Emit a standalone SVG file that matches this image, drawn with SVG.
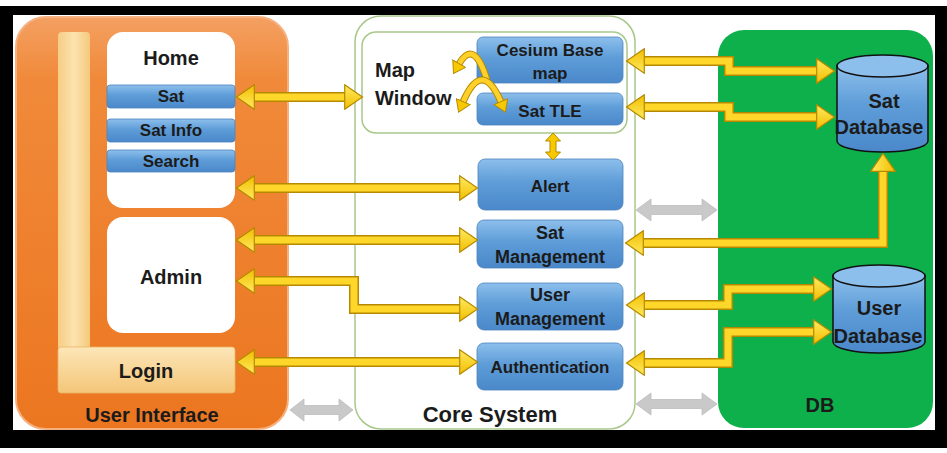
<svg xmlns="http://www.w3.org/2000/svg" width="947" height="453" viewBox="0 0 947 453">
<defs>
<style>
.t{font-family:"Liberation Sans",Arial,sans-serif;font-weight:bold;fill:#1b1b1b;text-anchor:middle}
.s17{font-size:17px}.s18{font-size:18px}.s20{font-size:20px}.s22{font-size:22px}
.blue{fill:url(#gBlue);stroke:#4D84BE;stroke-width:0.8}
.cont{fill:#fff;stroke:#A8C88A;stroke-width:1.5}
.shO{fill:none;stroke:#B58A00;stroke-width:10;stroke-linejoin:miter}
.shI{fill:none;stroke:#FFD62A;stroke-width:7;stroke-linejoin:miter}
.arr{marker-start:url(#ah);marker-end:url(#ah)}
.arcO{fill:none;stroke:#B58A00;stroke-width:7}
.arcI{fill:none;stroke:#FFD02A;stroke-width:5}
.gray{fill:#C9C9C9;stroke:#BDBDBD;stroke-width:0.8}
.cyl{fill:url(#gBlue);stroke:#111;stroke-width:1.5}
</style>
<linearGradient id="gOrange" x1="0" y1="0" x2="0" y2="1">
<stop offset="0" stop-color="#F4A062"/><stop offset="0.15" stop-color="#F08A3A"/><stop offset="1" stop-color="#EC7620"/>
</linearGradient>
<linearGradient id="gBlue" x1="0" y1="0" x2="0" y2="1">
<stop offset="0" stop-color="#8DBFEC"/><stop offset="0.45" stop-color="#5E9DD8"/><stop offset="1" stop-color="#4A88CA"/>
</linearGradient>
<linearGradient id="gBar" x1="0" y1="0" x2="1" y2="0">
<stop offset="0" stop-color="#F6CD85"/><stop offset="0.5" stop-color="#FCE3B0"/><stop offset="1" stop-color="#F5C97C"/>
</linearGradient>
<linearGradient id="gLogin" x1="0" y1="0" x2="0" y2="1">
<stop offset="0" stop-color="#FCE6B8"/><stop offset="1" stop-color="#F4C678"/>
</linearGradient>
<linearGradient id="gHead" x1="0" y1="0" x2="0" y2="1">
<stop offset="0" stop-color="#FFEA60"/><stop offset="1" stop-color="#F2BE00"/>
</linearGradient>
<marker id="ah" markerUnits="userSpaceOnUse" markerWidth="20" markerHeight="26" viewBox="0 0 20 26" refX="1" refY="13" orient="auto-start-reverse">
<path d="M0.7,0.7 L18.5,13 L0.7,25.3 Z" fill="url(#gHead)" stroke="#B58A00" stroke-width="1.2"/>
</marker>
<marker id="ahs" markerUnits="userSpaceOnUse" markerWidth="14" markerHeight="16" viewBox="0 0 14 16" refX="1" refY="8" orient="auto-start-reverse">
<path d="M0.6,0.6 L12,8 L0.6,15.4 Z" fill="#F8C800" stroke="#B58A00" stroke-width="1"/>
</marker>
</defs>

<rect x="0" y="6" width="947" height="442" fill="#000"/>
<rect x="13" y="15" width="922" height="415" fill="#fff"/>

<g id="user-interface">
<rect x="16" y="17" width="272" height="412" rx="30" fill="url(#gOrange)" stroke="#F5B07E" stroke-width="2"/>
<rect x="58" y="32" width="32" height="318" rx="4" fill="url(#gBar)"/>
<text class="t s20" x="152" y="422">User Interface</text>
</g>
<g id="login">
<rect x="58" y="347" width="177" height="46" rx="3" fill="url(#gLogin)" stroke="#E9B566" stroke-width="0.8"/>
<text class="t s20" x="146" y="378">Login</text>
</g>
<g id="home">
<rect x="107" y="32" width="128" height="176" rx="16" fill="#fff"/>
<text class="t s20" x="171" y="65">Home</text>
</g>
<g id="sat">
<rect class="blue" x="107" y="85" width="128" height="23" rx="3"/>
<text class="t s17" x="171" y="102">Sat</text>
</g>
<g id="sat-info">
<rect class="blue" x="107" y="119" width="128" height="23" rx="3"/>
<text class="t s17" x="171" y="136">Sat Info</text>
</g>
<g id="search">
<rect class="blue" x="107" y="150" width="128" height="22" rx="3"/>
<text class="t s17" x="171" y="167">Search</text>
</g>
<g id="admin">
<rect x="107" y="217" width="128" height="116" rx="16" fill="#fff"/>
<text class="t s20" x="171" y="284">Admin</text>
</g>

<g id="core-system">
<rect class="cont" x="355" y="16" width="280" height="413" rx="26"/>
<text class="t s22" x="490" y="422">Core System</text>
</g>
<g id="map-window">
<rect class="cont" x="362" y="32" width="265" height="101" rx="14"/>
<text class="t s20" x="375" y="77" style="text-anchor:start">Map</text>
<text class="t s20" x="375" y="105" style="text-anchor:start">Window</text>
</g>
<g id="cesium-base-map">
<rect class="blue" x="477" y="37" width="146" height="46" rx="6"/>
<text class="t s17" x="550" y="56">Cesium Base</text>
<text class="t s17" x="550" y="79">map</text>
</g>
<g id="sat-tle">
<rect class="blue" x="477" y="93" width="146" height="32" rx="6"/>
<text class="t s17" x="550" y="117">Sat TLE</text>
</g>
<g id="alert">
<rect class="blue" x="478" y="159" width="145" height="51" rx="7"/>
<text class="t s17" x="550" y="192">Alert</text>
</g>
<g id="sat-management">
<rect class="blue" x="477" y="220" width="146" height="48" rx="7"/>
<text class="t s18" x="550" y="239">Sat</text>
<text class="t s18" x="550" y="263">Management</text>
</g>
<g id="user-management">
<rect class="blue" x="477" y="283" width="146" height="47" rx="7"/>
<text class="t s18" x="550" y="301">User</text>
<text class="t s18" x="550" y="325">Management</text>
</g>
<g id="authentication">
<rect class="blue" x="477" y="343" width="146" height="47" rx="7"/>
<text class="t s17" x="550" y="373">Authentication</text>
</g>

<g id="db">
<rect x="718" y="30" width="215" height="398" rx="26" fill="#0DB04B"/>
<text class="t s20" x="820" y="412">DB</text>
</g>
<g id="sat-database">
<path class="cyl" d="M837,66 V141 A45.5,11 0 0 0 928,141 V66 Z"/>
<ellipse cx="882.5" cy="66" rx="45.5" ry="11" fill="#8DBFEC" stroke="#111" stroke-width="1.5"/>
<text class="t s20" x="884" y="108">Sat</text>
<text class="t s20" x="879" y="134">Database</text>
</g>
<g id="user-database">
<path class="cyl" d="M833,276 V342 A46,11 0 0 0 925,342 V276 Z"/>
<ellipse cx="879" cy="276" rx="46" ry="11" fill="#8DBFEC" stroke="#111" stroke-width="1.5"/>
<text class="t s20" x="879" y="315">User</text>
<text class="t s20" x="878" y="343">Database</text>
</g>

<g id="connectors">
<polygon class="gray" points="290,410 304,399 304,405.5 339,405.5 339,399 353,410 339,421 339,414.5 304,414.5 304,421"/>
<polygon class="gray" points="636,210 651,199 651,205.5 702,205.5 702,199 717,210 702,221 702,214.5 651,214.5 651,221"/>
<polygon class="gray" points="636,404 651,393 651,399.5 702,399.5 702,393 717,404 702,415 702,408.5 651,408.5 651,415"/>

<path class="shO" d="M254,97 H345"/><path class="shI arr" d="M254,97 H345"/>
<path class="shO" d="M254,188 H460"/><path class="shI arr" d="M254,188 H460"/>
<path class="shO" d="M254,240 H460"/><path class="shI arr" d="M254,240 H460"/>
<path class="shO" d="M254,281 H354 V309 H460"/><path class="shI arr" d="M254,281 H354 V309 H460"/>
<path class="shO" d="M254,362 H460"/><path class="shI arr" d="M254,362 H460"/>

<path class="shO" d="M644,61 H729 V71 H817"/><path class="shI arr" d="M644,61 H729 V71 H817"/>
<path class="shO" d="M644,107 H729 V117 H817"/><path class="shI arr" d="M644,107 H729 V117 H817"/>
<path class="shO" d="M643,243 H883 V171"/><path class="shI arr" d="M643,243 H883 V171"/>
<path class="shO" d="M644,305 H728 V289 H814"/><path class="shI arr" d="M644,305 H728 V289 H814"/>
<path class="shO" d="M644,363 H728 V332 H814"/><path class="shI arr" d="M644,363 H728 V332 H814"/>

<path class="arcO" d="M487,80 Q474,38 459,64"/><path class="arcI" d="M487,80 Q474,38 459,64" marker-end="url(#ahs)"/>
<path class="arcO" d="M463,102 Q482,58 501,102"/><path class="arcI" d="M463,102 Q482,58 501,102" marker-start="url(#ahs)" marker-end="url(#ahs)"/>

<polygon points="553,133 560.5,141 556,141 556,152 560.5,152 553,160 545.5,152 550,152 550,141 545.5,141" fill="#F8C800" stroke="#B58A00" stroke-width="1"/>
</g>
</svg>
